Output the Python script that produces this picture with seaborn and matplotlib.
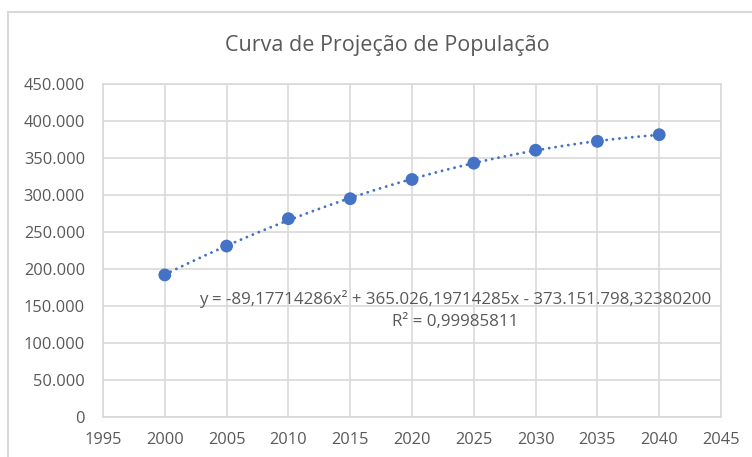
import numpy as np
import pandas as pd
import matplotlib
matplotlib.use("Agg")
import matplotlib.pyplot as plt
from matplotlib.ticker import FuncFormatter, MultipleLocator
from matplotlib.patches import Rectangle
import seaborn as sns

anos = [2000, 2005, 2010, 2015, 2020, 2025, 2030, 2035, 2040]
populacao = [192000, 231000, 268000, 295000, 321000, 343000, 360500, 372500, 381500]
titulo = "Curva de Projeção de População"
equacao = "y = -89,17714286x² + 365.026,19714285x - 373.151.798,32380200"
r2 = "R² = 0,99985811"

df = pd.DataFrame({"ano": anos, "pop": populacao})

sns.set_theme(style="white")
plt.rcParams["font.family"] = ["Open Sans", "DejaVu Sans"]

blue = "#4472C4"
grey_txt = "#595959"
grid_c = "#D9D9D9"

fig = plt.figure(figsize=(7.52, 4.57), dpi=100)
ax = fig.add_axes([103/752, 1-417/457, 618/752, 333/457])

sns.regplot(data=df, x="ano", y="pop", order=2, ci=None, ax=ax,
            scatter_kws=dict(s=85, color=blue, edgecolor="none", alpha=1, zorder=4),
            line_kws=dict(color=blue, lw=2.1, linestyle=(0, (0.01, 2.2)),
                          dash_capstyle="round", zorder=3))

ax.set_xlim(1995, 2045)
ax.set_ylim(0, 450000)
ax.xaxis.set_major_locator(MultipleLocator(5))
ax.yaxis.set_major_locator(MultipleLocator(50000))
ax.yaxis.set_major_formatter(FuncFormatter(lambda v, p: f"{int(v):,}".replace(",", ".")))
ax.set_xlabel("")
ax.set_ylabel("")
ax.grid(True, color=grid_c, lw=1.2)
ax.set_axisbelow(True)
for s in ax.spines.values():
    s.set_color(grid_c)
    s.set_linewidth(1.2)
ax.tick_params(axis="both", length=0, labelsize=11.8, colors=grey_txt)
ax.tick_params(axis="y", pad=13)
ax.tick_params(axis="x", pad=11)

fig.text(387/752, 1-45/457, titulo, ha="center", va="center", fontsize=15.5, color=grey_txt)
ax.text(0.57, 0.354, equacao, transform=ax.transAxes, ha="center", va="center",
        fontsize=12.2, color=grey_txt)
ax.text(0.57, 0.285, r2, transform=ax.transAxes, ha="center", va="center",
        fontsize=12.2, color=grey_txt)

fig.patches.append(Rectangle((8/752, -0.2), 1.5, 1.2 - 12/457, transform=fig.transFigure,
                             fill=False, edgecolor="#D9D9D9", lw=1.5))

fig.savefig("out.png", dpi=100)
